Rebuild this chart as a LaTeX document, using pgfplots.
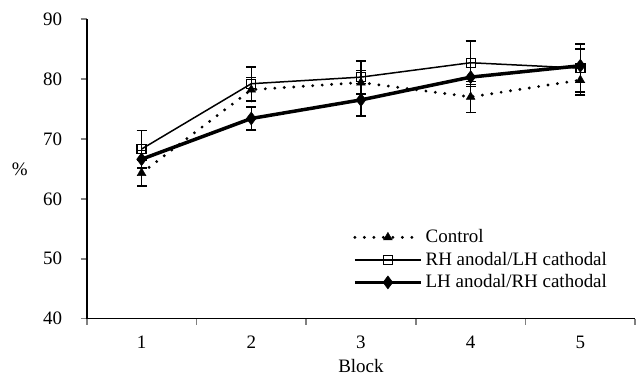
\documentclass[border=0pt]{standalone}
\usepackage{pgfplots}
\pgfplotsset{compat=1.18}
\usepackage{fontspec}
\setmainfont{Liberation Serif}
\begin{document}
\fontsize{19}{22}\selectfont
\begin{tikzpicture}
\begin{axis}[
  scale only axis,
  width=549pt, height=300pt,
  xmin=0.5, xmax=5.5, ymin=40, ymax=90,
  axis lines*=left,
  axis line style={line width=1.6pt},
  xtick={1,2,3,4,5},
  minor xtick={0.5,1.5,2.5,3.5,4.5,5.5},
  ytick={40,50,60,70,80,90},
  tick align=outside,
  major x tick style={draw=none},
  minor x tick style={line width=1.6pt},
  major y tick style={line width=1.6pt},
  major tick length=6pt, minor tick length=6pt,
  /pgf/number format/assume math mode=true,
  tick label style={font=\fontsize{19}{22}\selectfont},
  xticklabel style={yshift=-5pt},
  yticklabel style={xshift=-12pt},
  xlabel={Block}, ylabel={\%},
  label style={font=\fontsize{19}{22}\selectfont},
  xlabel style={inner ysep=2.5pt, yshift=-1pt},
  ylabel style={rotate=-90, at={(axis description cs:0,0.5)}, anchor=west, xshift=-87pt, inner xsep=12pt},
  legend style={draw=none, fill=none, at={(0.48,0.312)}, anchor=north west,
    font=\fontsize{19}{22}\selectfont, row sep=2.5pt,
    nodes={inner xsep=3pt}},
  legend cell align=left,
  legend image code/.code={\draw[mark repeat=2,mark phase=2,#1] plot coordinates {(0pt,0pt)(33pt,0pt)(66pt,0pt)};},
  error bars/y dir=both, error bars/y explicit,
  error bars/error bar style={line width=1.5pt, solid, black},
  error bars/error mark options={rotate=90, mark size=5pt, line width=1.5pt, black},
]
\addplot[black, line width=3.2pt, dash pattern=on 0pt off 9.5pt, line cap=round,
  mark=triangle*, mark size=5pt, mark options={solid, line width=0.5pt, fill=black}]
  coordinates {(1,64.3)+-(0,2.2) (2,78.2)+-(0,2.0) (3,79.4)+-(0,2.0) (4,77.0)+-(0,2.6) (5,79.8)+-(0,2.5)};
\addlegendentry{Control}
\addplot[black, line width=1.5pt, mark=square, mark size=4.5pt, mark options={solid, line width=1.3pt, fill=white}]
  coordinates {(1,68.3)+-(0,3.1) (2,79.2)+-(0,2.8) (3,80.3)+-(0,2.7) (4,82.7)+-(0,3.6) (5,81.8)+-(0,4.0)};
\addlegendentry{RH anodal/LH cathodal}
\addplot[black, line width=3.5pt, mark=diamond*, mark size=6.5pt, mark options={solid, line width=0.5pt, fill=black}]
  coordinates {(1,66.6)+-(0,1.5) (2,73.4)+-(0,1.9) (3,76.5)+-(0,2.7) (4,80.3)+-(0,1.6) (5,82.2)+-(0,2.8)};
\addlegendentry{LH anodal/RH cathodal}
\end{axis}
\path (current axis.north west) ++(0pt,19pt);
\end{tikzpicture}
\end{document}
